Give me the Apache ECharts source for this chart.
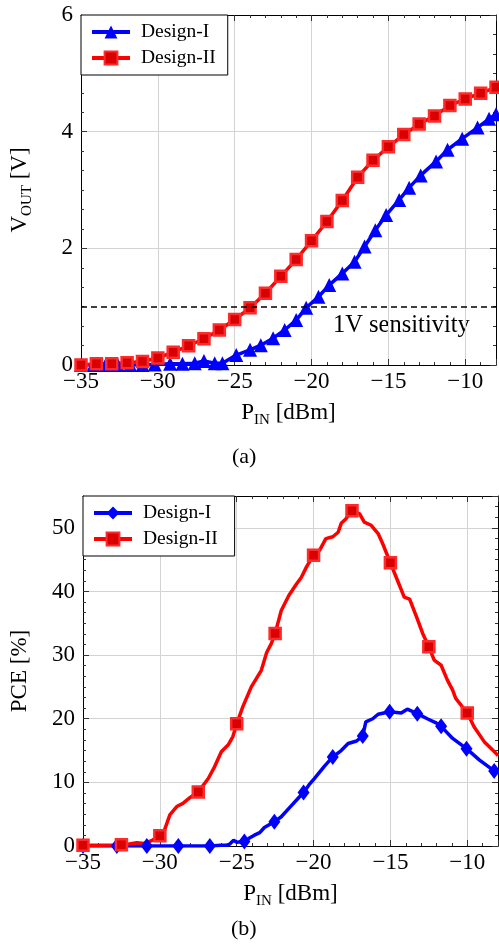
<!DOCTYPE html>
<html>
<head>
<meta charset="utf-8">
<script src="https://cdn.jsdelivr.net/npm/echarts@6/dist/echarts.min.js"></script>
<style>
  html, body { margin: 0; padding: 0; background: #fff; }
  #chart { width: 499px; height: 950px; }
</style>
</head>
<body>
<div id="chart"></div>
<script>
// (a) V_OUT [V] vs P_IN [dBm]
const voutII = [
  [-35, 0.0], [-34, 0.02], [-33, 0.02], [-32, 0.04], [-31, 0.06], [-30, 0.12], [-29, 0.22],
  [-28, 0.33], [-27, 0.45], [-26, 0.6], [-25, 0.78], [-24, 0.98], [-23, 1.23], [-22, 1.52],
  [-21, 1.81], [-20, 2.13], [-19, 2.46], [-18, 2.82], [-17, 3.22], [-16, 3.51], [-15, 3.74],
  [-14, 3.95], [-13, 4.13], [-12, 4.27], [-11, 4.45], [-10, 4.56], [-9, 4.66], [-8, 4.76]
];
const voutI = [
  [-35, 0], [-34.2, 0], [-33.4, 0], [-32.6, 0], [-31.8, 0], [-31, 0], [-30.2, 0.01],
  [-29.2, 0.02], [-28.4, 0.02], [-27.6, 0.03], [-27.0, 0.07], [-26.3, 0.03], [-25.8, 0.03],
  [-24.9, 0.17], [-24.0, 0.26], [-23.3, 0.34], [-22.5, 0.46], [-21.75, 0.6], [-21.0, 0.77],
  [-20.35, 0.98], [-19.55, 1.17], [-18.85, 1.37], [-18.0, 1.57], [-17.2, 1.77], [-16.55, 2.03],
  [-15.85, 2.31], [-15.15, 2.57], [-14.3, 2.83], [-13.65, 3.04], [-12.9, 3.25], [-11.9, 3.49],
  [-11.15, 3.69], [-10.2, 3.88], [-9.2, 4.07], [-8.45, 4.22], [-8.0, 4.3]
];
const sensitivityLevel = 1;

// (b) PCE [%] vs P_IN [dBm]
const pceII = [
  [-35, 0.1], [-34, 0.1], [-33, 0.15], [-32.5, 0.2], [-32, 0.3], [-31.5, 0.5], [-31, 0.4],
  [-30.5, 0.9], [-30, 1.6], [-29.7, 2.5], [-29.35, 4.9], [-28.9, 6.2], [-28.5, 6.7],
  [-28.05, 7.6], [-27.5, 8.5], [-26.85, 10.6], [-26.45, 12.4], [-26.0, 14.8], [-25.55, 15.9],
  [-25.25, 17.2], [-25, 19.2], [-24.6, 21.9], [-24.05, 25.0], [-23.4, 27.6], [-23.05, 30.4],
  [-22.75, 31.8], [-22.5, 33.4], [-22.1, 37.0], [-21.6, 39.4], [-21.1, 41.2], [-20.8, 42.2],
  [-20.45, 43.9], [-20, 45.7], [-19.6, 46.5], [-19.2, 48.3], [-18.75, 48.6], [-18.4, 49.3],
  [-18.2, 50.7], [-17.9, 51.4], [-17.5, 52.7], [-17.0, 52.2], [-16.7, 50.9], [-16.25, 50.4],
  [-15.8, 49.1], [-15.5, 47.5], [-15, 44.5], [-14.55, 41.8], [-14.1, 39.1], [-13.75, 38.8],
  [-13.3, 36.0], [-12.9, 33.4], [-12.5, 31.3], [-12.15, 29.2], [-11.7, 28.4], [-11.3, 26.1],
  [-10.95, 24.5], [-10.75, 23.2], [-10, 20.9], [-9.55, 18.7], [-8.9, 16.4], [-8.15, 14.6], [-8, 14.2]
];
const pceIIMarks = [-35, -32.5, -30, -27.5, -25, -22.5, -20, -17.5, -15, -12.5, -10];
const pceI = [
  [-35, 0], [-34, 0], [-33, 0], [-32.8, 0], [-32, 0], [-31, 0], [-30.85, 0], [-30, 0],
  [-29, 0], [-28.8, 0], [-28, 0], [-27, 0], [-26.75, 0], [-26, 0.1], [-25.7, 0.1],
  [-25.45, 0.3], [-25.2, 0.9], [-25, 0.6], [-24.5, 0.7], [-24.2, 1.2], [-23.85, 1.7],
  [-23.5, 2.1], [-23.2, 2.9], [-22.55, 3.8], [-22.1, 4.6], [-21.65, 5.8], [-21.0, 7.5],
  [-20.65, 8.4], [-20.3, 9.6], [-19.95, 10.6], [-19.3, 12.5], [-18.75, 14.0], [-18.2, 15.0],
  [-17.75, 16.1], [-17.2, 16.5], [-16.8, 17.3], [-16.6, 19.5], [-16.15, 20.0], [-15.8, 20.7],
  [-15.05, 21.1], [-14.3, 20.9], [-13.9, 21.5], [-13.25, 20.8], [-12.6, 20.0], [-12.0, 19.3],
  [-11.7, 18.8], [-10.95, 16.9], [-10.05, 15.3], [-9.2, 13.5], [-8.25, 11.8], [-8, 11.5]
];
const pceIMarks = [-35, -32.8, -30.85, -28.8, -26.75, -24.5, -22.55, -20.65, -18.75, -16.8,
  -15.05, -13.25, -11.7, -10.05, -8.25];

const FONT = "'Liberation Serif', 'DejaVu Serif', serif";
const BLUE = '#0000ff';
const RED = '#ff0000';

const minus = (v) => String(v).replace('-', '\u2212');

const nameRich = {
  m: { fontFamily: FONT, fontSize: 23, lineHeight: 30, color: '#000' },
  s: { fontFamily: FONT, fontSize: 15, lineHeight: 15, verticalAlign: 'bottom', color: '#000' }
};

function xAxes(grid) {
  const base = {
    gridIndex: grid, type: 'value', min: -35, max: -8, interval: 5,
    axisLine: { show: true, onZero: false, lineStyle: { color: '#000', width: 1 } },
    axisTick: { show: true, inside: true, length: 6, lineStyle: { color: '#333' } },
    minorTick: { show: true, splitNumber: 5, length: 3, lineStyle: { color: '#333' } }
  };
  return [
    Object.assign({}, base, {
      position: 'bottom',
      axisLabel: { margin: 5, color: '#000', fontFamily: FONT, fontSize: 23, showMaxLabel: false, formatter: minus },
      splitLine: { show: true, lineStyle: { color: '#d3d3d3', width: 1 } },
      name: '{m|P}{s|IN}{m| [dBm]}', nameLocation: 'middle', nameGap: 33,
      nameTextStyle: { rich: nameRich }
    }),
    Object.assign({}, base, { position: 'top', axisLabel: { show: false }, splitLine: { show: false } })
  ];
}

function yAxes(grid, max, interval, name, gap) {
  const base = {
    gridIndex: grid, type: 'value', min: 0, max: max, interval: interval,
    axisLine: { show: true, onZero: false, lineStyle: { color: '#000', width: 1 } },
    axisTick: { show: true, inside: true, length: 6, lineStyle: { color: '#333' } },
    minorTick: { show: true, splitNumber: 6, length: 3, lineStyle: { color: '#333' } }
  };
  return [
    Object.assign({}, base, {
      position: 'left',
      axisLabel: { margin: 8, color: '#000', fontFamily: FONT, fontSize: 23, showMaxLabel: max % interval === 0 },
      splitLine: { show: true, lineStyle: { color: '#d3d3d3', width: 1 } },
      name: name, nameLocation: 'middle', nameGap: gap,
      nameTextStyle: { rich: nameRich }
    }),
    Object.assign({}, base, { position: 'right', axisLabel: { show: false }, splitLine: { show: false } })
  ];
}

const markData = (pts, marks) => pts.map(p => marks.includes(p[0]) ? { value: p } : { value: p, symbol: 'none' });

const legendBase = {
  orient: 'vertical', itemWidth: 38, itemHeight: 16, itemGap: 6,
  backgroundColor: '#fff', borderColor: '#000', borderWidth: 1, borderRadius: 0,
  padding: [7, 12, 7, 9],
  lineStyle: { width: 4 },
  textStyle: { fontFamily: FONT, fontSize: 19.5, color: '#000', padding: [0, 0, 0, 6] }
};

const chart = echarts.init(document.getElementById('chart'), null, { renderer: 'canvas' });
chart.setOption({
  animation: false,
  backgroundColor: '#fff',
  grid: [
    { left: 81, top: 15, width: 415, height: 350, outerBoundsMode: 'none' },
    { left: 83, top: 496, width: 415, height: 350, outerBoundsMode: 'none' }
  ],
  legend: [
    Object.assign({}, legendBase, { left: 81, top: 15, data: ['Design-I', 'Design-II'] }),
    Object.assign({}, legendBase, { left: 83, top: 496, data: ['Design-I ', 'Design-II '] })
  ],
  xAxis: xAxes(0).concat(xAxes(1)),
  yAxis: yAxes(0, 6, 2, '{m|V}{s|OUT}{m| [V]}', 46).concat(yAxes(1, 55, 10, '{m|PCE [%]}', 48)),
  series: [
    {
      name: 'Design-I', type: 'line', xAxisIndex: 0, yAxisIndex: 0, data: voutI,
      symbol: 'triangle', symbolSize: 14, color: BLUE,
      itemStyle: { color: BLUE }, lineStyle: { color: BLUE, width: 3.5 }
    },
    {
      name: 'Design-II', type: 'line', xAxisIndex: 0, yAxisIndex: 0, data: voutII,
      symbol: 'rect', symbolSize: 11, color: RED,
      itemStyle: { color: '#d80000', borderColor: '#ff2a2a', borderWidth: 2.5 },
      lineStyle: { color: RED, width: 3.5 },
      markLine: {
        silent: true, symbol: ['none', 'none'], label: { show: false },
        lineStyle: { color: '#000', width: 1.5, type: [6, 4] },
        data: [{ yAxis: sensitivityLevel }]
      }
    },
    {
      name: 'Design-I ', type: 'line', xAxisIndex: 2, yAxisIndex: 2,
      data: markData(pceI, pceIMarks),
      symbol: 'diamond', symbolSize: [12, 16], color: BLUE,
      itemStyle: { color: BLUE }, lineStyle: { color: BLUE, width: 3.5 }
    },
    {
      name: 'Design-II ', type: 'line', xAxisIndex: 2, yAxisIndex: 2,
      data: markData(pceII, pceIIMarks),
      symbol: 'rect', symbolSize: 11, color: RED,
      itemStyle: { color: '#d80000', borderColor: '#ff2a2a', borderWidth: 2.5 },
      lineStyle: { color: RED, width: 3.5 }
    }
  ],
  graphic: [
    { type: 'text', left: 333, top: 313, style: { text: '1V sensitivity', font: "24.5px " + FONT, fill: '#000' } },
    { type: 'text', left: 232, top: 446, style: { text: '(a)', font: "22px " + FONT, fill: '#000' } },
    { type: 'text', left: 231, top: 918, style: { text: '(b)', font: "22px " + FONT, fill: '#000' } }
  ]
});
</script>
</body>
</html>
